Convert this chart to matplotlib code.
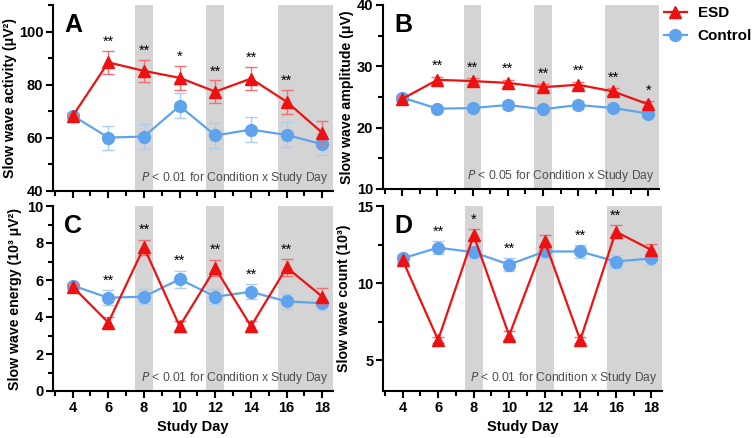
import numpy as np
import matplotlib
matplotlib.use('Agg')
import matplotlib.pyplot as plt
from matplotlib.ticker import MultipleLocator

plt.rcParams['font.family'] = ['Liberation Sans', 'DejaVu Sans']

days = [4, 6, 8, 10, 12, 14, 16, 18]

# A: slow wave activity
swa_esd = [68.2, 88.4, 85.2, 82.6, 77.4, 82.3, 73.6, 61.9]
swa_esd_err = [0.8, 4.3, 4.0, 4.5, 4.2, 4.4, 4.5, 4.6]
swa_ctl = [68.4, 60.1, 60.5, 72.0, 60.9, 63.1, 61.1, 57.6]
swa_ctl_err = [0.8, 4.5, 4.6, 4.7, 4.6, 4.6, 4.7, 4.0]
swa_stars = ['', '**', '**', '*', '**', '**', '**', '']

# B: slow wave amplitude
amp_esd = [24.7, 27.8, 27.6, 27.3, 26.6, 27.0, 25.9, 23.8]
amp_esd_err = [0.4, 0.5, 0.5, 0.5, 0.5, 0.5, 0.5, 0.5]
amp_ctl = [24.9, 23.1, 23.2, 23.7, 23.0, 23.7, 23.2, 22.3]
amp_ctl_err = [0.4, 0.5, 0.5, 0.6, 0.5, 0.6, 0.5, 0.5]
amp_stars = ['', '**', '**', '**', '**', '**', '**', '*']

# C: slow wave energy
en_esd = [5.64, 3.7, 7.77, 3.5, 6.64, 3.5, 6.68, 5.1]
en_esd_err = [0.15, 0.3, 0.4, 0.3, 0.45, 0.3, 0.45, 0.45]
en_ctl = [5.7, 5.04, 5.1, 6.04, 5.1, 5.36, 4.84, 4.75]
en_ctl_err = [0.15, 0.4, 0.4, 0.45, 0.4, 0.4, 0.4, 0.35]
en_stars = ['', '**', '**', '**', '**', '**', '**', '']

# D: slow wave count
cnt_esd = [11.5, 6.31, 13.1, 6.6, 12.7, 6.3, 13.34, 12.15]
cnt_esd_err = [0.2, 0.2, 0.4, 0.3, 0.4, 0.2, 0.4, 0.4]
cnt_ctl = [11.6, 12.3, 12.0, 11.2, 12.05, 12.05, 11.4, 11.6]
cnt_ctl_err = [0.2, 0.4, 0.4, 0.4, 0.4, 0.4, 0.4, 0.4]
cnt_stars = ['', '**', '*', '**', '', '**', '**', '']

shaded_days = [8, 12, (16, 18.6)]

RED = '#ee1111'
BLUE = '#5fa3ee'

W, H = 756, 438
fig = plt.figure(figsize=(W / 100, H / 100), dpi=100)


def box(l, r, t, b):
    return [l / W, 1 - b / H, (r - l) / W, (b - t) / H]


def panel(rect, letter, esd, esd_err, ctl, ctl_err, stars, ylim, major, minor,
          ylabel, ylab_x, ptext, xlabels, star_gap):
    ax = fig.add_axes(rect)
    for s in shaded_days:
        if isinstance(s, tuple):
            ax.axvspan(s[0] - 0.5, s[1], color='#d4d4d4', lw=0, zorder=0)
        else:
            ax.axvspan(s - 0.5, s + 0.5, color='#d4d4d4', lw=0, zorder=0)
    ax.errorbar(days, ctl, yerr=ctl_err, color=BLUE, ecolor='#a9cdf5', marker='o',
                ms=8.5, lw=1.6, capsize=4, elinewidth=1, capthick=1, zorder=3)
    ax.errorbar(days, esd, yerr=esd_err, color=RED, ecolor='#f07070', marker='^',
                ms=9, lw=1.6, capsize=4, elinewidth=1, capthick=1, zorder=4)
    for d, s, e1, e2, c1, c2 in zip(days, stars, esd, esd_err, ctl, ctl_err):
        if s:
            top = max(e1 + e2, c1 + c2)
            ax.text(d, top + star_gap, s, ha='center', va='bottom', fontsize=10.5)
    ax.set_xlim(2.9, 18.6)
    ax.set_ylim(*ylim)
    ax.set_xticks(days)
    ax.xaxis.set_minor_locator(MultipleLocator(1))
    ax.yaxis.set_major_locator(MultipleLocator(major))
    ax.yaxis.set_minor_locator(MultipleLocator(minor))
    for sp in ['top', 'right']:
        ax.spines[sp].set_visible(False)
    for sp in ['left', 'bottom']:
        ax.spines[sp].set_linewidth(1.5)
    ax.tick_params(which='major', length=5, width=1.5, labelsize=10.5, pad=2)
    ax.tick_params(which='minor', length=3.5, width=1.5)
    for t in ax.get_xticklabels() + ax.get_yticklabels():
        t.set_fontweight('bold')
    if xlabels:
        ax.set_xlabel('Study Day', fontsize=10.5, fontweight='bold', labelpad=4)
    else:
        ax.set_xticklabels([])
    ax.set_ylabel(ylabel, fontsize=10.2, fontweight='bold', va='center')
    ax.yaxis.set_label_coords(ylab_x, 0.5)
    ax.text(0.04, 0.955, letter, transform=ax.transAxes, fontsize=18,
            fontweight='bold', va='top', ha='left')
    ax.text(0.985, 0.025, ptext, transform=ax.transAxes, fontsize=8.7,
            color='#505050', ha='right', va='bottom')
    return ax


panel(box(53, 333, 5, 191), 'A', swa_esd, swa_esd_err, swa_ctl, swa_ctl_err,
      swa_stars, (40, 110), 20, 10, 'Slow wave activity (μV²)', -0.152,
      r'$P$ < 0.01 for Condition x Study Day', False, 0.8)
panel(box(383, 659, 5, 189), 'B', amp_esd, amp_esd_err, amp_ctl, amp_ctl_err,
      amp_stars, (10, 40), 10, 5, 'Slow wave amplitude (μV)', -0.13,
      r'$P$ < 0.05 for Condition x Study Day', False, 0.6)
panel(box(53, 333, 206, 391), 'C', en_esd, en_esd_err, en_ctl, en_ctl_err,
      en_stars, (0, 10), 2, 1, 'Slow wave energy (10³ μV²)', -0.135,
      r'$P$ < 0.01 for Condition x Study Day', True, 0.15)
panel(box(383, 662, 206, 391), 'D', cnt_esd, cnt_esd_err, cnt_ctl, cnt_ctl_err,
      cnt_stars, (3, 15), 5, 2.5, 'Slow wave count (10³)', -0.14,
      r'$P$ < 0.01 for Condition x Study Day', True, 0.15)

handles = [
    plt.Line2D([], [], color=RED, marker='^', ms=9, lw=1.6),
    plt.Line2D([], [], color=BLUE, marker='o', ms=8.5, lw=1.6),
]
fig.legend(handles, ['ESD', 'Control'], loc='upper left',
           bbox_to_anchor=(664 / W, 1 - 6 / H), frameon=False,
           prop={'weight': 'bold', 'size': 11}, handlelength=1.5,
           handletextpad=0.7, labelspacing=0.6, borderpad=0, borderaxespad=0)

fig.savefig('out.png', dpi=100)
